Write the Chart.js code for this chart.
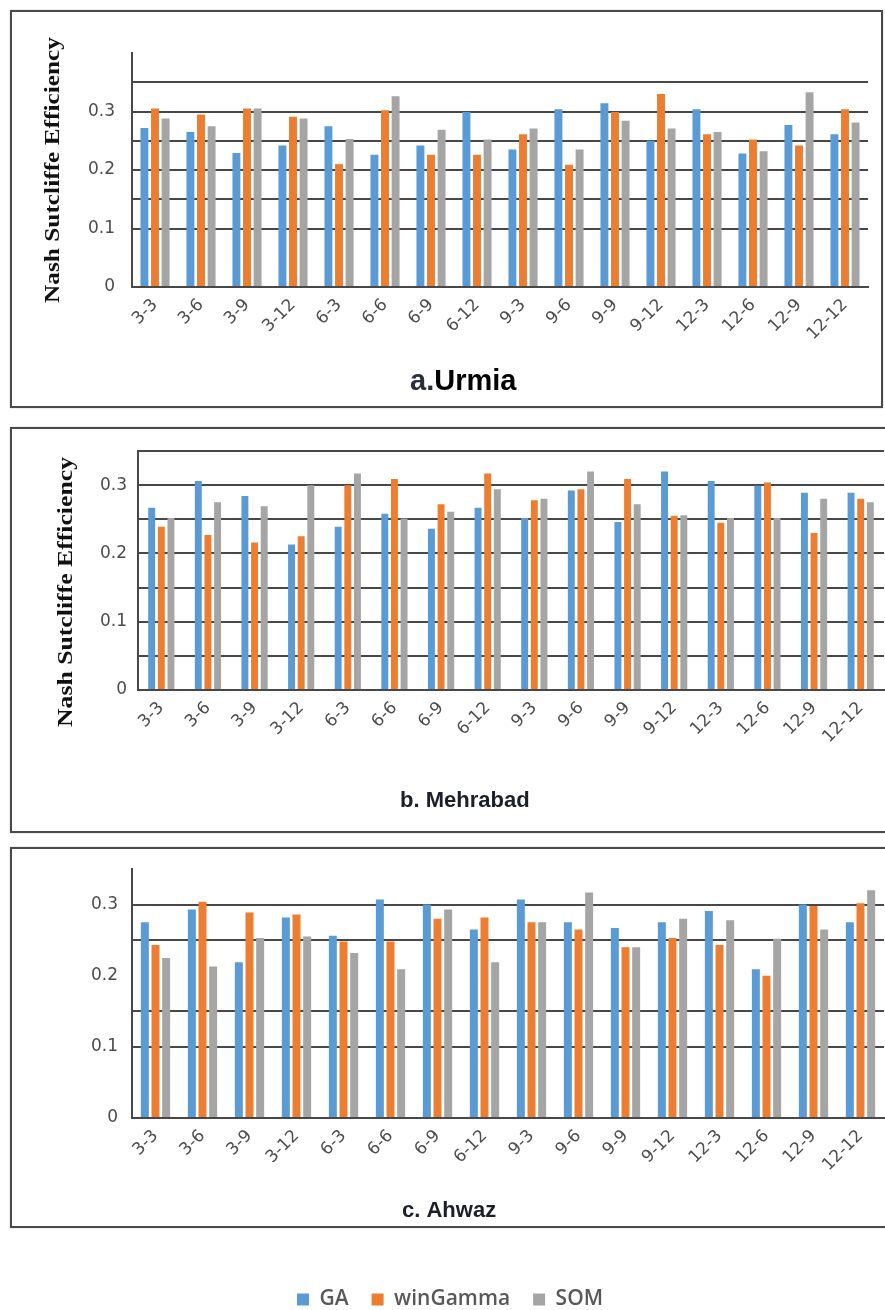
<!DOCTYPE html>
<html>
<head>
<meta charset="utf-8">
<title>Nash Sutcliffe Efficiency</title>
<script src="https://cdn.jsdelivr.net/npm/chart.js@4.4.1/dist/chart.umd.min.js"></script>
<style>
  html, body { margin: 0; padding: 0; background: #fff; }
  body { width: 885px; height: 1310px; overflow: hidden; position: relative; }
  .frame { position: absolute; border: 2px solid #4a4a4a; box-sizing: border-box; box-shadow: 0 0 1px #999; }
  .box { position: absolute; left: 0; width: 885px; }
</style>
</head>
<body>
<div class="frame" style="left:10px;top:10px;width:873px;height:398px"></div>
<div class="frame" style="left:10px;top:427px;width:900px;height:406px"></div>
<div class="frame" style="left:10px;top:847px;width:900px;height:381px"></div>

<div class="box" style="top:0;height:410px"><canvas id="urmia"></canvas></div>
<div class="box" style="top:420px;height:420px"><canvas id="mehrabad"></canvas></div>
<div class="box" style="top:840px;height:480px"><canvas id="ahwaz"></canvas></div>

<script>
// Lead-time combinations (input-output months)
const categories = ['3-3', '3-6', '3-9', '3-12', '6-3', '6-6', '6-9', '6-12',
                    '9-3', '9-6', '9-9', '9-12', '12-3', '12-6', '12-9', '12-12'];
const seriesNames = ['GA', 'winGamma', 'SOM'];
const seriesColors = ['#5B9BD5', '#ED7D31', '#A5A5A5'];
const yTickLabels = ['0', '0.1', '0.2', '0.3'];

// a. Urmia
const urmiaGA       = [0.272, 0.265, 0.229, 0.242, 0.275, 0.226, 0.242, 0.299, 0.235, 0.304, 0.314, 0.250, 0.304, 0.228, 0.277, 0.261];
const urmiaWinGamma = [0.305, 0.295, 0.305, 0.291, 0.210, 0.302, 0.226, 0.226, 0.261, 0.209, 0.299, 0.330, 0.261, 0.252, 0.242, 0.304];
const urmiaSOM      = [0.288, 0.275, 0.305, 0.288, 0.253, 0.326, 0.269, 0.252, 0.271, 0.235, 0.284, 0.271, 0.265, 0.232, 0.333, 0.281];

// b. Mehrabad
const mehrabadGA       = [0.267, 0.306, 0.284, 0.213, 0.239, 0.258, 0.236, 0.267, 0.252, 0.292, 0.246, 0.320, 0.306, 0.299, 0.289, 0.289];
const mehrabadWinGamma = [0.239, 0.227, 0.216, 0.225, 0.300, 0.309, 0.272, 0.317, 0.278, 0.294, 0.309, 0.255, 0.245, 0.304, 0.230, 0.280];
const mehrabadSOM      = [0.252, 0.275, 0.269, 0.300, 0.317, 0.251, 0.261, 0.294, 0.280, 0.320, 0.272, 0.256, 0.252, 0.252, 0.280, 0.275];

// c. Ahwaz
const ahwazGA       = [0.275, 0.293, 0.219, 0.282, 0.256, 0.307, 0.300, 0.265, 0.307, 0.275, 0.267, 0.275, 0.291, 0.209, 0.300, 0.275];
const ahwazWinGamma = [0.243, 0.304, 0.289, 0.286, 0.248, 0.248, 0.280, 0.282, 0.275, 0.265, 0.240, 0.253, 0.243, 0.200, 0.298, 0.302];
const ahwazSOM      = [0.225, 0.213, 0.253, 0.255, 0.232, 0.209, 0.293, 0.219, 0.275, 0.317, 0.240, 0.280, 0.278, 0.252, 0.265, 0.320];

const GRID = '#484848';
const TICK = '#4d4d4d';

// Captions and rotated axis titles drawn at fixed spots on each canvas
const panelText = {
  id: 'panelText',
  afterDraw(chart, args, opts) {
    const ctx = chart.ctx;
    (opts.items || []).forEach(it => {
      ctx.save();
      ctx.font = it.font;
      if (it.rotate) {
        ctx.translate(it.x, it.y);
        ctx.rotate(-Math.PI / 2);
        const w = ctx.measureText(it.text).width;
        ctx.scale(it.length / w, 1);
        ctx.textAlign = 'center';
        ctx.textBaseline = 'middle';
        ctx.fillStyle = it.color;
        ctx.fillText(it.text, 0, 0);
      } else {
        let x = it.x;
        ctx.textAlign = 'left';
        ctx.textBaseline = 'alphabetic';
        it.parts.forEach(p => {
          ctx.fillStyle = p.color;
          ctx.fillText(p.text, x, it.y);
          x += ctx.measureText(p.text).width;
        });
      }
      ctx.restore();
    });
  }
};

function buildPanel(id, c) {
  const canvas = document.getElementById(id);
  const padLeft = c.padLeft || 0;
  const datasets = c.values.map((vals, i) => ({
    label: seriesNames[i],
    data: vals,
    backgroundColor: seriesColors[i],
    borderWidth: 0,
    barPercentage: c.barPct,
    categoryPercentage: c.catPct
  }));
  return new Chart(canvas, {
    type: 'bar',
    data: { labels: categories, datasets },
    plugins: [panelText],
    options: {
      responsive: true,
      maintainAspectRatio: false,
      animation: false,
      devicePixelRatio: 1,
      layout: { padding: { left: padLeft, top: c.areaTop, right: 885 - c.areaRight, bottom: 0 } },
      scales: {
        x: {
          grid: { display: false, drawTicks: false },
          border: { display: true, color: GRID, width: 2 },
          ticks: {
            autoSkip: false, minRotation: 45, maxRotation: 45,
            padding: c.xPad, color: TICK,
            font: { family: 'DejaVu Sans', size: 17 }
          },
          afterFit(s) {
            const lg = s.chart.legend;
            const lh = (lg && lg.options.display) ? lg.height : 0;
            s.height = c.canvasH - lh - c.areaBottom;
          }
        },
        y: {
          min: 0, max: c.yMax,
          ticks: {
            stepSize: 0.05, padding: c.yPad, color: TICK,
            font: { family: 'DejaVu Sans', size: 17 },
            callback(v) {
              const k = Math.round(v * 100);
              return k % 10 === 0 && yTickLabels[k / 10] !== undefined ? yTickLabels[k / 10] : '';
            }
          },
          grid: {
            drawTicks: false, lineWidth: 2,
            color(ctx) {
              if (!ctx.tick) return GRID;
              const k = Math.round(ctx.tick.value * 100);
              return c.gridAt.includes(k) ? GRID : 'rgba(0,0,0,0)';
            }
          },
          border: { display: true, color: GRID, width: 2 },
          afterFit(s) { s.width = c.areaLeft - padLeft; }
        }
      },
      plugins: {
        tooltip: { enabled: false },
        title: { display: false },
        legend: c.legend ? {
          display: true, position: 'bottom',
          labels: {
            boxWidth: 12, boxHeight: 12, padding: 23, color: '#595959',
            font: { family: 'Open Sans', size: 21, weight: '600' }
          }
        } : { display: false },
        panelText: { items: c.texts }
      }
    }
  });
}

const yTitleFont = 'bold 22px "Liberation Serif", serif';

buildPanel('urmia', {
  values: [urmiaGA, urmiaWinGamma, urmiaSOM],
  yMax: 0.4, gridAt: [0, 10, 15, 20, 25, 30, 35],
  areaLeft: 132, areaRight: 868, areaTop: 53, areaBottom: 287, canvasH: 410,
  yPad: 17, xPad: 8, barPct: 0.75, catPct: 0.69, legend: false,
  texts: [
    { rotate: true, text: 'Nash Sutcliffe Efficiency', x: 53, y: 170, length: 266, font: yTitleFont, color: '#111' },
    { x: 410, y: 390, font: 'bold 29px "Liberation Sans", Arial, sans-serif',
      parts: [{ text: 'a.', color: '#2b2f3a' }, { text: 'Urmia', color: '#000' }] }
  ]
});

buildPanel('mehrabad', {
  values: [mehrabadGA, mehrabadWinGamma, mehrabadSOM],
  yMax: 0.35, gridAt: [0, 5, 10, 15, 20, 25, 30, 35],
  areaLeft: 138, areaRight: 884, areaTop: 31, areaBottom: 270, canvasH: 420,
  yPad: 11, xPad: 8, barPct: 0.72, catPct: 0.62, legend: false,
  texts: [
    { rotate: true, text: 'Nash Sutcliffe Efficiency', x: 66, y: 172, length: 270, font: yTitleFont, color: '#111' },
    { x: 400, y: 387, font: 'bold 22px "Liberation Sans", Arial, sans-serif',
      parts: [{ text: 'b. Mehrabad', color: '#1c1f2a' }] }
  ]
});

buildPanel('ahwaz', {
  values: [ahwazGA, ahwazWinGamma, ahwazSOM],
  yMax: 0.35, gridAt: [0, 10, 15, 25, 30],
  areaLeft: 132, areaRight: 884, areaTop: 29, areaBottom: 278, canvasH: 480,
  padLeft: 16,
  yPad: 14, xPad: 8, barPct: 0.75, catPct: 0.68, legend: true,
  texts: [
    { x: 402, y: 377, font: 'bold 22px "Liberation Sans", Arial, sans-serif',
      parts: [{ text: 'c. Ahwaz', color: '#1c1f2a' }] }
  ]
});
</script>
</body>
</html>
